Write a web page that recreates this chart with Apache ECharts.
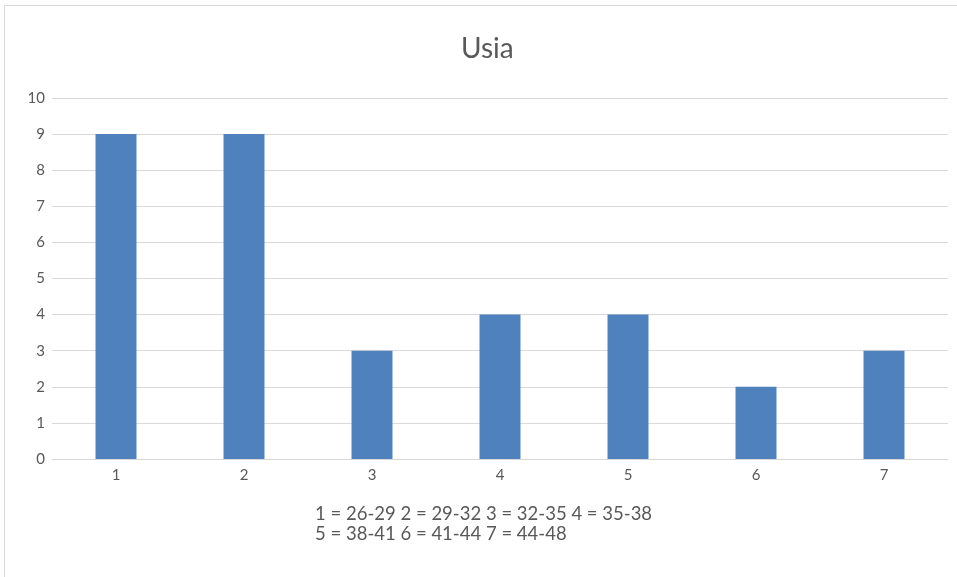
<!DOCTYPE html>
<html>
<head>
<meta charset="utf-8">
<script src="https://cdn.jsdelivr.net/npm/echarts@6/dist/echarts.min.js"></script>
<style>
  html, body { margin: 0; padding: 0; background: #fff; overflow: hidden; }
  #wrap { position: relative; width: 957px; height: 577px; }
  #frame { position: absolute; left: 4px; top: 5px; width: 980px; height: 600px;
           border: 1px solid #d9d9d9; box-sizing: border-box; }
  #chart { position: absolute; left: 0; top: 0; width: 957px; height: 577px; }
</style>
</head>
<body>
<div id="wrap">
  <div id="frame"></div>
  <div id="chart"></div>
</div>
<script>
// Age groups and number of respondents in each
const categories = ['1', '2', '3', '4', '5', '6', '7'];
const counts = [9, 9, 3, 4, 4, 2, 3];
const legendLines = [
  '1 = 26-29 2 = 29-32 3 = 32-35 4 = 35-38',
  '5 = 38-41 6 = 41-44 7 = 44-48'
];

const FONT = 'Lato, "Open Sans", sans-serif';
const GREY = '#595959';

const chart = echarts.init(document.getElementById('chart'), null, { renderer: 'canvas' });
chart.setOption({
  animation: false,
  title: {
    text: 'Usia',
    left: 456,
    top: 30,
    textStyle: { fontFamily: FONT, fontSize: 28, fontWeight: 'normal', color: GREY }
  },
  grid: { left: 52, right: 9, top: 98, bottom: 118, containLabel: false },
  xAxis: {
    type: 'category',
    data: categories,
    axisLine: { lineStyle: { color: '#d9d9d9', width: 1 } },
    axisTick: { show: false },
    axisLabel: { fontFamily: FONT, fontSize: 15, color: GREY, margin: 9 }
  },
  yAxis: {
    type: 'value',
    min: 0,
    max: 10,
    interval: 1,
    axisLine: { show: false },
    axisTick: { show: false },
    splitLine: { lineStyle: { color: '#d9d9d9', width: 1 } },
    axisLabel: { fontFamily: FONT, fontSize: 15, color: GREY, margin: 7 }
  },
  series: [{
    type: 'bar',
    data: counts,
    barWidth: '32%',
    itemStyle: { color: '#4f81bd' }
  }],
  graphic: [{
    type: 'text',
    left: 315,
    top: 504,
    style: {
      text: legendLines.join('\n'),
      fontFamily: FONT,
      fontSize: 18.5,
      lineHeight: 20,
      fill: GREY
    }
  }]
});
</script>
</body>
</html>
